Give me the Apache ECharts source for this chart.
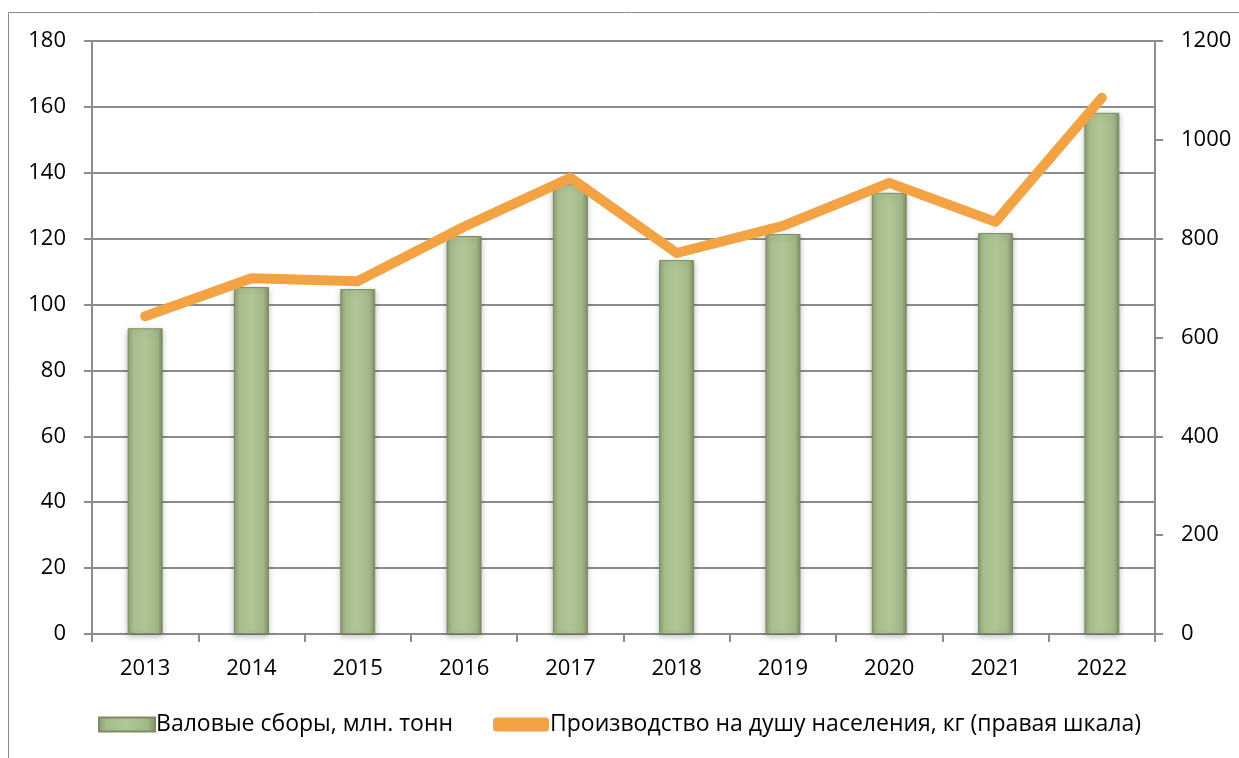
<!DOCTYPE html>
<html>
<head>
<meta charset="utf-8">
<script src="https://cdn.jsdelivr.net/npm/echarts@6/dist/echarts.min.js"></script>
<style>
  html, body { margin: 0; padding: 0; background: #fff; }
  #chart { width: 1239px; height: 758px; }
</style>
</head>
<body>
<div id="chart"></div>
<script>
// годы
const years = ['2013', '2014', '2015', '2016', '2017', '2018', '2019', '2020', '2021', '2022']
// валовые сборы, млн. тонн (левая шкала)
const harvest = [92.8, 105.3, 104.7, 120.8, 136.5, 113.5, 121.4, 133.9, 121.7, 158.2]
// производство на душу населения, кг (правая шкала)
const perCapita = [643, 720, 714, 824, 923, 771, 826, 913, 834, 1085]

const barName = 'Валовые сборы, млн. тонн'
const lineName = 'Производство на душу населения, кг (правая шкала)'

const axisGray = '#8c8c8c'
const labelFont = { color: '#000', fontSize: 22, fontFamily: 'Open Sans' }

const chart = echarts.init(document.getElementById('chart'))

const option = {
  animation: false,
  backgroundColor: '#fff',
  graphic: [{
    type: 'rect',
    shape: { x: 8.5, y: 12.5, width: 1300, height: 800 },
    style: { fill: 'none', stroke: '#8c8c8c', lineWidth: 1 },
    silent: true
  }],
  grid: { left: 92, right: 84, top: 41, bottom: 124 },
  legend: {
    bottom: 17,
    left: 'center',
    itemGap: 40,
    itemWidth: 56,
    itemHeight: 14,
    textStyle: { color: '#000', fontSize: 23, fontFamily: 'Open Sans', padding: [0, 0, 0, -4] },
    data: [
      { name: barName, icon: 'rect' },
      { name: lineName, icon: 'roundRect', itemStyle: { color: '#f3a344' } }
    ]
  },
  xAxis: {
    type: 'category',
    data: years,
    axisLine: { lineStyle: { color: axisGray, width: 2 } },
    axisTick: { show: true, length: 8, alignWithLabel: false, lineStyle: { color: axisGray, width: 2 } },
    axisLabel: Object.assign({ margin: 24 }, labelFont)
  },
  yAxis: [
    {
      type: 'value',
      min: 0,
      max: 180,
      interval: 20,
      axisLine: { show: true, lineStyle: { color: axisGray, width: 2 } },
      axisTick: { show: true, length: 8, lineStyle: { color: axisGray, width: 2 } },
      splitLine: { lineStyle: { color: axisGray, width: 2 } },
      axisLabel: Object.assign({ margin: 26 }, labelFont)
    },
    {
      type: 'value',
      min: 0,
      max: 1200,
      interval: 200,
      position: 'right',
      axisLine: { show: true, lineStyle: { color: axisGray, width: 2 } },
      axisTick: { show: true, length: 8, lineStyle: { color: axisGray, width: 2 } },
      splitLine: { show: false },
      axisLabel: Object.assign({ margin: 26, formatter: v => String(v) }, labelFont)
    }
  ],
  series: [
    {
      name: barName,
      type: 'bar',
      data: harvest,
      barWidth: 35,
      itemStyle: {
        color: new echarts.graphic.LinearGradient(0, 0, 1, 0, [
          { offset: 0, color: '#8d9e72' },
          { offset: 0.15, color: '#a7bd8c' },
          { offset: 0.5, color: '#b0c696' },
          { offset: 0.85, color: '#a2b786' },
          { offset: 1, color: '#7f8f66' }
        ]),
        borderColor: '#7c8b63',
        borderWidth: 1,
        shadowColor: 'rgba(0,0,0,0.25)',
        shadowBlur: 6,
        shadowOffsetY: 2
      }
    },
    {
      name: lineName,
      type: 'line',
      yAxisIndex: 1,
      data: perCapita,
      symbol: 'none',
      lineStyle: { color: '#f3a344', width: 10, cap: 'round', join: 'round' },
      itemStyle: { color: '#f3a344' }
    }
  ]
}

chart.setOption(option)
</script>
</body>
</html>
